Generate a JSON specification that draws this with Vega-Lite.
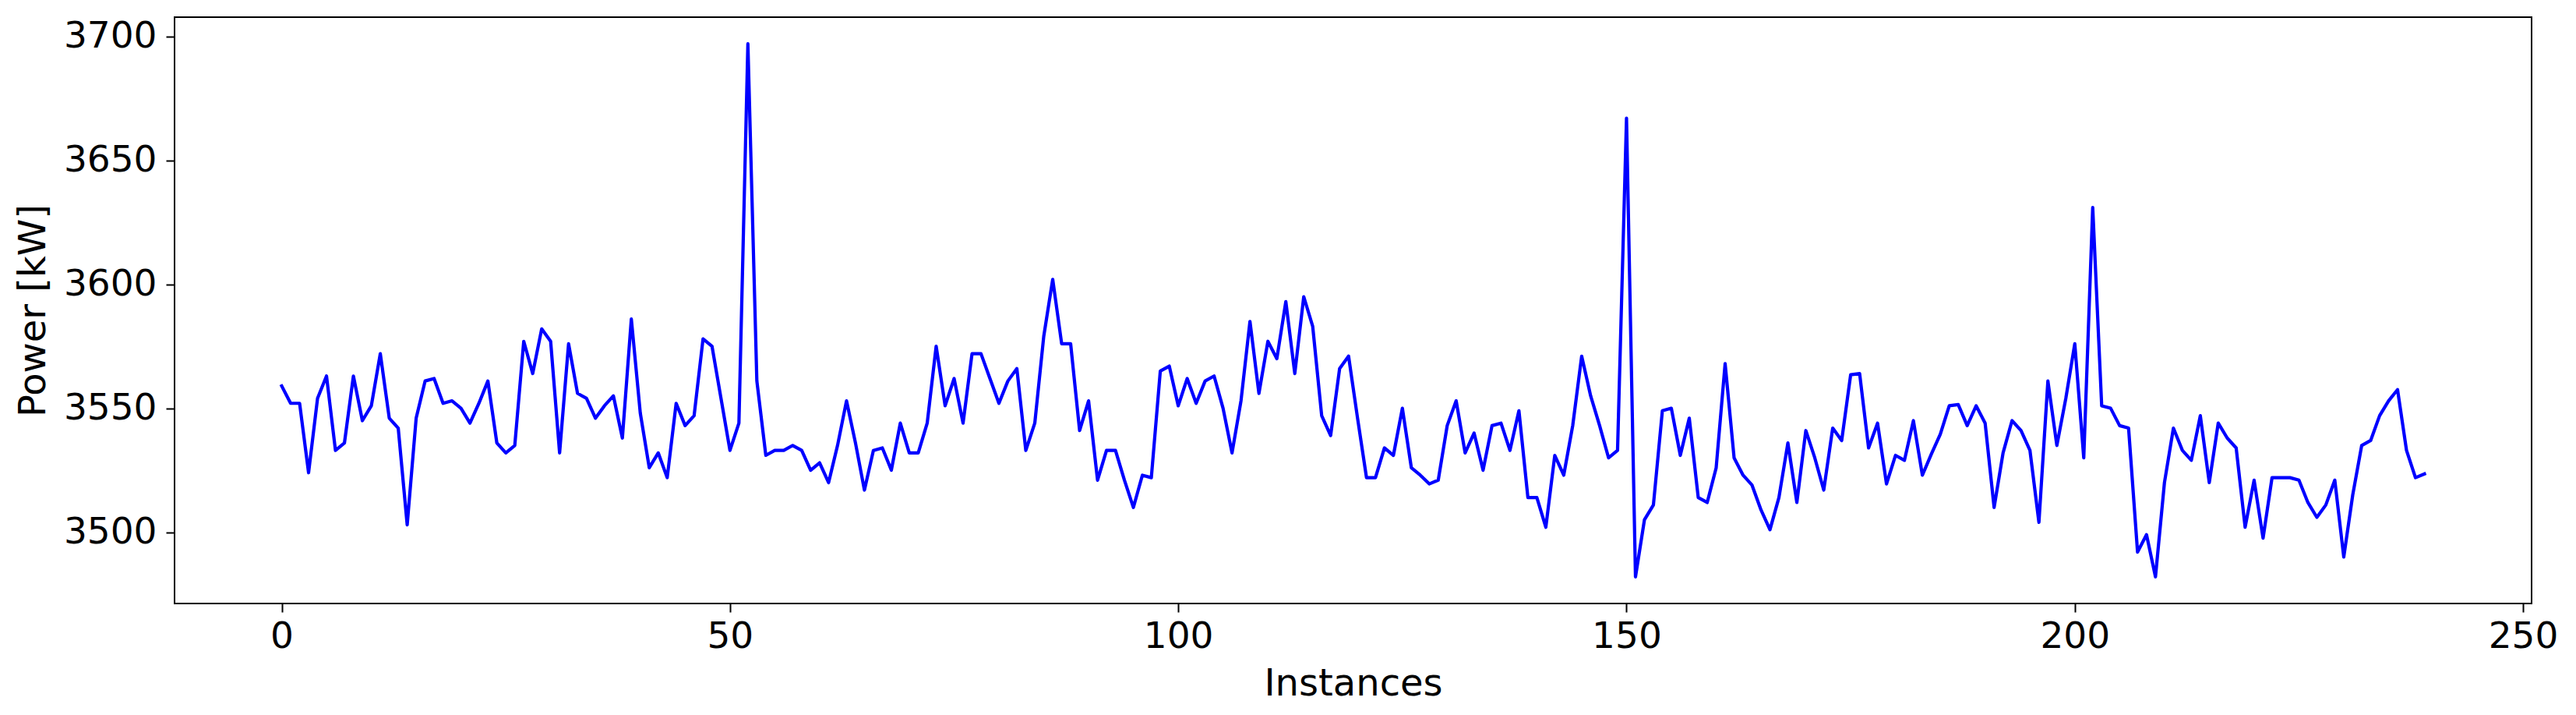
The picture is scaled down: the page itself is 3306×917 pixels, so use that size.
{
"$schema": "https://vega.github.io/schema/vega-lite/v6.json",
"autosize": "none",
"width": 3025,
"height": 752,
"padding": {"left": 224, "top": 22, "right": 57, "bottom": 143},
"background": "white",
"config": {
  "view": {"stroke": "#000000", "strokeWidth": 2},
  "axis": {"grid": false, "domain": false, "tickColor": "#000000", "tickWidth": 2, "tickSize": 11, "labelColor": "#000000", "titleColor": "#000000", "labelFont": "DejaVu Sans", "titleFont": "DejaVu Sans", "titleFontWeight": "normal", "labelFontSize": 47, "titleFontSize": 48}
},
"data": {"values": [
{"Instance":0,"Power":3559},{"Instance":1,"Power":3552},{"Instance":2,"Power":3552},{"Instance":3,"Power":3524},{"Instance":4,"Power":3554},{"Instance":5,"Power":3563},{"Instance":6,"Power":3533},{"Instance":7,"Power":3536},{"Instance":8,"Power":3563},{"Instance":9,"Power":3545},
{"Instance":10,"Power":3551},{"Instance":11,"Power":3572},{"Instance":12,"Power":3546},{"Instance":13,"Power":3542},{"Instance":14,"Power":3503},{"Instance":15,"Power":3546},{"Instance":16,"Power":3561},{"Instance":17,"Power":3562},{"Instance":18,"Power":3552},{"Instance":19,"Power":3553},
{"Instance":20,"Power":3550},{"Instance":21,"Power":3544},{"Instance":22,"Power":3552},{"Instance":23,"Power":3561},{"Instance":24,"Power":3536},{"Instance":25,"Power":3532},{"Instance":26,"Power":3535},{"Instance":27,"Power":3577},{"Instance":28,"Power":3564},{"Instance":29,"Power":3582},
{"Instance":30,"Power":3577},{"Instance":31,"Power":3532},{"Instance":32,"Power":3576},{"Instance":33,"Power":3556},{"Instance":34,"Power":3554},{"Instance":35,"Power":3546},{"Instance":36,"Power":3551},{"Instance":37,"Power":3555},{"Instance":38,"Power":3538},{"Instance":39,"Power":3586},
{"Instance":40,"Power":3548},{"Instance":41,"Power":3526},{"Instance":42,"Power":3532},{"Instance":43,"Power":3522},{"Instance":44,"Power":3552},{"Instance":45,"Power":3543},{"Instance":46,"Power":3547},{"Instance":47,"Power":3578},{"Instance":48,"Power":3575},{"Instance":49,"Power":3554},
{"Instance":50,"Power":3533},{"Instance":51,"Power":3544},{"Instance":52,"Power":3697},{"Instance":53,"Power":3561},{"Instance":54,"Power":3531},{"Instance":55,"Power":3533},{"Instance":56,"Power":3533},{"Instance":57,"Power":3535},{"Instance":58,"Power":3533},{"Instance":59,"Power":3525},
{"Instance":60,"Power":3528},{"Instance":61,"Power":3520},{"Instance":62,"Power":3535},{"Instance":63,"Power":3553},{"Instance":64,"Power":3536},{"Instance":65,"Power":3517},{"Instance":66,"Power":3533},{"Instance":67,"Power":3534},{"Instance":68,"Power":3525},{"Instance":69,"Power":3544},
{"Instance":70,"Power":3532},{"Instance":71,"Power":3532},{"Instance":72,"Power":3544},{"Instance":73,"Power":3575},{"Instance":74,"Power":3551},{"Instance":75,"Power":3562},{"Instance":76,"Power":3544},{"Instance":77,"Power":3572},{"Instance":78,"Power":3572},{"Instance":79,"Power":3562},
{"Instance":80,"Power":3552},{"Instance":81,"Power":3561},{"Instance":82,"Power":3566},{"Instance":83,"Power":3533},{"Instance":84,"Power":3544},{"Instance":85,"Power":3579},{"Instance":86,"Power":3602},{"Instance":87,"Power":3576},{"Instance":88,"Power":3576},{"Instance":89,"Power":3541},
{"Instance":90,"Power":3553},{"Instance":91,"Power":3521},{"Instance":92,"Power":3533},{"Instance":93,"Power":3533},{"Instance":94,"Power":3521},{"Instance":95,"Power":3510},{"Instance":96,"Power":3523},{"Instance":97,"Power":3522},{"Instance":98,"Power":3565},{"Instance":99,"Power":3567},
{"Instance":100,"Power":3551},{"Instance":101,"Power":3562},{"Instance":102,"Power":3552},{"Instance":103,"Power":3561},{"Instance":104,"Power":3563},{"Instance":105,"Power":3550},{"Instance":106,"Power":3532},{"Instance":107,"Power":3553},{"Instance":108,"Power":3585},{"Instance":109,"Power":3556},
{"Instance":110,"Power":3577},{"Instance":111,"Power":3570},{"Instance":112,"Power":3593},{"Instance":113,"Power":3564},{"Instance":114,"Power":3595},{"Instance":115,"Power":3583},{"Instance":116,"Power":3547},{"Instance":117,"Power":3539},{"Instance":118,"Power":3566},{"Instance":119,"Power":3571},
{"Instance":120,"Power":3546},{"Instance":121,"Power":3522},{"Instance":122,"Power":3522},{"Instance":123,"Power":3534},{"Instance":124,"Power":3531},{"Instance":125,"Power":3550},{"Instance":126,"Power":3526},{"Instance":127,"Power":3523},{"Instance":128,"Power":3519.5},{"Instance":129,"Power":3521},
{"Instance":130,"Power":3543},{"Instance":131,"Power":3553},{"Instance":132,"Power":3532},{"Instance":133,"Power":3540},{"Instance":134,"Power":3525},{"Instance":135,"Power":3543},{"Instance":136,"Power":3544},{"Instance":137,"Power":3533},{"Instance":138,"Power":3549},{"Instance":139,"Power":3514},
{"Instance":140,"Power":3514},{"Instance":141,"Power":3502},{"Instance":142,"Power":3531},{"Instance":143,"Power":3523},{"Instance":144,"Power":3543},{"Instance":145,"Power":3571},{"Instance":146,"Power":3555},{"Instance":147,"Power":3543},{"Instance":148,"Power":3530},{"Instance":149,"Power":3533},
{"Instance":150,"Power":3667},{"Instance":151,"Power":3482},{"Instance":152,"Power":3505},{"Instance":153,"Power":3511},{"Instance":154,"Power":3549},{"Instance":155,"Power":3550},{"Instance":156,"Power":3531},{"Instance":157,"Power":3546},{"Instance":158,"Power":3514},{"Instance":159,"Power":3512},
{"Instance":160,"Power":3526},{"Instance":161,"Power":3568},{"Instance":162,"Power":3530},{"Instance":163,"Power":3523},{"Instance":164,"Power":3519},{"Instance":165,"Power":3509},{"Instance":166,"Power":3501},{"Instance":167,"Power":3514},{"Instance":168,"Power":3536},{"Instance":169,"Power":3512},
{"Instance":170,"Power":3541},{"Instance":171,"Power":3530},{"Instance":172,"Power":3517},{"Instance":173,"Power":3542},{"Instance":174,"Power":3537},{"Instance":175,"Power":3563.5},{"Instance":176,"Power":3564},{"Instance":177,"Power":3534},{"Instance":178,"Power":3544},{"Instance":179,"Power":3519.5},
{"Instance":180,"Power":3531},{"Instance":181,"Power":3529},{"Instance":182,"Power":3545},{"Instance":183,"Power":3523},{"Instance":184,"Power":3531.5},{"Instance":185,"Power":3539.5},{"Instance":186,"Power":3551},{"Instance":187,"Power":3551.5},{"Instance":188,"Power":3543},{"Instance":189,"Power":3551},
{"Instance":190,"Power":3544},{"Instance":191,"Power":3510},{"Instance":192,"Power":3532},{"Instance":193,"Power":3545},{"Instance":194,"Power":3541},{"Instance":195,"Power":3533},{"Instance":196,"Power":3504},{"Instance":197,"Power":3561},{"Instance":198,"Power":3535},{"Instance":199,"Power":3554},
{"Instance":200,"Power":3576},{"Instance":201,"Power":3530},{"Instance":202,"Power":3631},{"Instance":203,"Power":3551},{"Instance":204,"Power":3550},{"Instance":205,"Power":3543},{"Instance":206,"Power":3542},{"Instance":207,"Power":3492},{"Instance":208,"Power":3499},{"Instance":209,"Power":3482},
{"Instance":210,"Power":3520},{"Instance":211,"Power":3542},{"Instance":212,"Power":3533},{"Instance":213,"Power":3529},{"Instance":214,"Power":3547},{"Instance":215,"Power":3520},{"Instance":216,"Power":3544},{"Instance":217,"Power":3538},{"Instance":218,"Power":3534},{"Instance":219,"Power":3502},
{"Instance":220,"Power":3521},{"Instance":221,"Power":3497.6},{"Instance":222,"Power":3522},{"Instance":223,"Power":3522},{"Instance":224,"Power":3522},{"Instance":225,"Power":3521},{"Instance":226,"Power":3512},{"Instance":227,"Power":3506},{"Instance":228,"Power":3511},{"Instance":229,"Power":3521},
{"Instance":230,"Power":3490},{"Instance":231,"Power":3515},{"Instance":232,"Power":3535},{"Instance":233,"Power":3537},{"Instance":234,"Power":3547},{"Instance":235,"Power":3553},{"Instance":236,"Power":3557.5},{"Instance":237,"Power":3533},{"Instance":238,"Power":3522},{"Instance":239,"Power":3523.5}
]},
"mark": {"type": "line", "color": "#0000ff", "strokeWidth": 4.2, "strokeJoin": "round", "strokeCap": "square", "clip": true},
"encoding": {
  "x": {"field": "Instance", "type": "quantitative", "scale": {"domain": [-11.95, 250.95], "nice": false, "zero": false},
        "axis": {"title": "Instances", "values": [0, 50, 100, 150, 200, 250], "format": "d", "labelPadding": 8, "titlePadding": 14, "labelFlush": false}},
  "y": {"field": "Power", "type": "quantitative", "scale": {"domain": [3471.25, 3707.75], "nice": false, "zero": false},
        "axis": {"title": "Power [kW]", "values": [3500, 3550, 3600, 3650, 3700], "format": "d", "labelPadding": 12, "titlePadding": 14, "labelFlush": false}}
}
}
